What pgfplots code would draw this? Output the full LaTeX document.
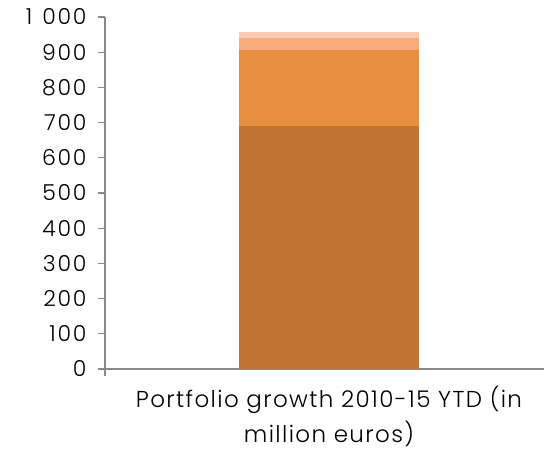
\documentclass[border=0pt]{standalone}
\usepackage{pgfplots}
\pgfplotsset{compat=1.18}
\usepackage{fontspec}
\setmainfont{Poppins}[UprightFont={* Light}]
\definecolor{c1}{HTML}{C07433}
\definecolor{c2}{HTML}{E88E41}
\definecolor{c3}{HTML}{F8AC7C}
\definecolor{c4}{HTML}{F9CBB1}
\definecolor{axgray}{HTML}{898989}
\begin{document}
\begin{tikzpicture}
\useasboundingbox (-105pt,-83pt) rectangle (439pt,369pt);
\begin{axis}[
  at={(0,0)}, anchor=south west,
  width=448pt, height=352pt, scale only axis,
  xmin=-1, xmax=1, ymin=0, ymax=1000,
  ybar stacked, bar width=180pt,
  axis x line*=bottom, axis y line*=left,
  axis line style={draw=axgray, line width=1.2pt},
  ytick={0,100,...,1000},
  xtick={0},
  xticklabels={Portfolio growth 2010-15 YTD (in\\million euros)},
  minor xtick={-1},
  tick align=outside,
  major tick length=7pt, minor tick length=7pt,
  tick style={draw=axgray, line width=1.2pt},
  major x tick style={draw=none},
  x tick label style={align=center, font=\fontsize{23}{35}\selectfont\addfontfeatures{LetterSpace=6}, yshift=-6pt},
  y tick label style={font=\fontsize{22}{24}\selectfont\addfontfeatures{LetterSpace=8}, xshift=-8pt},
  /pgf/number format/assume math mode=true,
  /pgf/number format/min exponent for 1000 sep=3,
  /pgf/number format/1000 sep={\hspace{0.45em}},
  clip=false,
]
\addplot[fill=c1, draw=none] coordinates {(0,690)};
\addplot[fill=c2, draw=none] coordinates {(0,216)};
\addplot[fill=c3, draw=none] coordinates {(0,34)};
\addplot[fill=c4, draw=none] coordinates {(0,17)};
\end{axis}
\end{tikzpicture}
\end{document}
